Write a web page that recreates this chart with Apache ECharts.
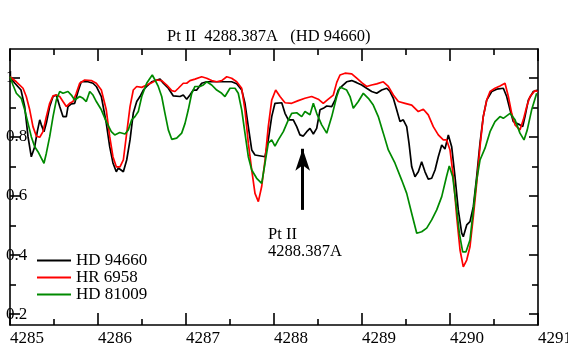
<!DOCTYPE html>
<html>
<head>
<meta charset="utf-8">
<script src="https://cdn.jsdelivr.net/npm/echarts@6/dist/echarts.min.js"></script>
<style>
  html, body { margin: 0; padding: 0; background: #ffffff; }
  #chart { width: 568px; height: 352px; }
</style>
</head>
<body>
<div id="chart"></div>
<script>
// wavelength offsets from 4285 A, flux
let blackWave = [0.000,0.053,0.125,0.167,0.205,0.242,0.281,0.310,0.338,0.356,0.386,0.413,0.451,0.489,0.526,0.565,0.602,0.640,0.659,0.697,0.735,0.773,0.810,0.886,0.943,0.981,1.038,1.094,1.133,1.170,1.208,1.231,1.288,1.326,1.364,1.401,1.440,1.477,1.515,1.553,1.610,1.705,1.742,1.799,1.856,1.932,1.969,2.008,2.045,2.083,2.122,2.178,2.235,2.330,2.406,2.519,2.576,2.633,2.670,2.708,2.747,2.784,2.898,2.935,2.974,3.011,3.088,3.125,3.163,3.219,3.258,3.295,3.333,3.372,3.409,3.447,3.485,3.523,3.560,3.599,3.656,3.693,3.731,3.769,3.826,3.883,3.940,3.997,4.053,4.110,4.167,4.224,4.281,4.318,4.356,4.394,4.432,4.469,4.508,4.534,4.565,4.602,4.640,4.678,4.716,4.753,4.792,4.830,4.867,4.906,4.943,4.981,5.019,5.057,5.094,5.133,5.151,5.190,5.227,5.265,5.303,5.341,5.378,5.417,5.474,5.531,5.606,5.644,5.682,5.719,5.758,5.795,5.826,5.852,5.890,5.947,5.997]
let blackFlux = [1.004,0.983,0.959,0.903,0.800,0.733,0.767,0.818,0.858,0.841,0.818,0.847,0.903,0.937,0.942,0.903,0.869,0.869,0.903,0.912,0.914,0.954,0.987,0.987,0.982,0.971,0.937,0.847,0.767,0.712,0.682,0.695,0.682,0.722,0.790,0.881,0.920,0.937,0.959,0.971,0.987,0.996,0.982,0.965,0.939,0.937,0.942,0.928,0.942,0.959,0.959,0.982,0.987,0.987,0.987,0.987,0.980,0.959,0.914,0.835,0.756,0.739,0.733,0.790,0.869,0.914,0.916,0.880,0.858,0.858,0.835,0.807,0.803,0.818,0.829,0.810,0.829,0.892,0.897,0.905,0.903,0.925,0.959,0.971,0.987,0.991,0.984,0.976,0.965,0.954,0.948,0.959,0.965,0.954,0.931,0.892,0.852,0.858,0.835,0.779,0.699,0.665,0.682,0.716,0.682,0.657,0.660,0.688,0.733,0.773,0.759,0.807,0.767,0.665,0.553,0.474,0.462,0.502,0.513,0.564,0.665,0.779,0.869,0.925,0.954,0.962,0.965,0.937,0.892,0.852,0.846,0.841,0.835,0.869,0.925,0.954,0.959]

let redWave = [0.000,0.072,0.148,0.185,0.224,0.261,0.299,0.338,0.375,0.413,0.451,0.489,0.526,0.565,0.602,0.640,0.678,0.716,0.753,0.792,0.849,0.924,0.981,1.038,1.094,1.133,1.170,1.208,1.250,1.288,1.326,1.364,1.401,1.440,1.497,1.553,1.610,1.667,1.724,1.781,1.838,1.875,1.913,1.969,2.008,2.045,2.102,2.178,2.235,2.292,2.349,2.406,2.463,2.519,2.576,2.633,2.670,2.708,2.747,2.784,2.822,2.860,2.898,2.935,2.974,3.019,3.068,3.125,3.201,3.276,3.352,3.428,3.503,3.560,3.617,3.674,3.713,3.750,3.807,3.883,3.940,3.997,4.053,4.110,4.167,4.242,4.299,4.356,4.413,4.489,4.565,4.640,4.697,4.753,4.810,4.867,4.924,4.962,5.000,5.038,5.076,5.114,5.151,5.190,5.227,5.265,5.303,5.341,5.378,5.417,5.455,5.511,5.568,5.625,5.663,5.701,5.739,5.795,5.833,5.872,5.909,5.966,5.997]
let redFlux = [1.004,0.987,0.965,0.937,0.892,0.835,0.803,0.799,0.818,0.869,0.914,0.939,0.942,0.937,0.920,0.903,0.914,0.920,0.948,0.982,0.993,0.991,0.982,0.959,0.892,0.801,0.733,0.699,0.699,0.722,0.813,0.903,0.959,0.971,0.968,0.976,0.984,0.993,0.991,0.976,0.957,0.954,0.965,0.982,0.982,0.991,0.996,1.004,0.999,0.991,0.987,0.991,1.004,0.999,0.987,0.965,0.892,0.779,0.688,0.609,0.581,0.632,0.722,0.835,0.925,0.959,0.937,0.916,0.914,0.923,0.931,0.937,0.928,0.914,0.928,0.942,0.985,1.010,1.016,1.014,0.999,0.984,0.971,0.976,0.980,0.987,0.971,0.942,0.920,0.914,0.908,0.886,0.894,0.875,0.835,0.807,0.790,0.790,0.756,0.665,0.530,0.417,0.360,0.383,0.428,0.530,0.643,0.767,0.869,0.925,0.954,0.965,0.973,0.982,0.937,0.880,0.841,0.824,0.858,0.903,0.937,0.957,0.954]

let greenWave = [0.000,0.034,0.072,0.128,0.167,0.205,0.242,0.281,0.318,0.356,0.386,0.413,0.451,0.489,0.526,0.565,0.602,0.659,0.697,0.735,0.792,0.830,0.867,0.906,0.943,0.981,1.038,1.094,1.151,1.190,1.247,1.307,1.344,1.383,1.420,1.458,1.497,1.553,1.591,1.617,1.648,1.685,1.724,1.761,1.799,1.838,1.894,1.951,1.989,2.026,2.065,2.102,2.159,2.197,2.235,2.292,2.349,2.406,2.443,2.500,2.557,2.594,2.633,2.670,2.708,2.747,2.803,2.860,2.898,2.935,2.974,3.011,3.049,3.106,3.163,3.201,3.258,3.315,3.352,3.409,3.447,3.485,3.542,3.599,3.656,3.713,3.750,3.826,3.864,3.901,3.958,4.015,4.072,4.128,4.185,4.242,4.299,4.375,4.451,4.508,4.565,4.622,4.678,4.735,4.792,4.849,4.906,4.962,4.992,5.031,5.068,5.106,5.144,5.182,5.227,5.265,5.303,5.341,5.398,5.455,5.511,5.568,5.606,5.682,5.739,5.795,5.841,5.878,5.928,5.985]
let greenFlux = [1.004,0.976,0.948,0.931,0.892,0.846,0.801,0.767,0.750,0.728,0.711,0.745,0.801,0.869,0.925,0.954,0.948,0.954,0.942,0.925,0.937,0.931,0.920,0.954,0.942,0.920,0.892,0.852,0.818,0.807,0.815,0.810,0.824,0.858,0.869,0.886,0.937,0.982,0.999,1.010,0.993,0.971,0.937,0.880,0.824,0.792,0.796,0.813,0.846,0.892,0.948,0.971,0.971,0.976,0.987,0.976,0.959,0.948,0.937,0.965,0.965,0.948,0.892,0.813,0.733,0.688,0.660,0.643,0.711,0.779,0.790,0.769,0.790,0.818,0.858,0.880,0.882,0.869,0.886,0.875,0.914,0.880,0.841,0.813,0.869,0.937,0.969,0.959,0.937,0.897,0.920,0.948,0.931,0.908,0.869,0.813,0.756,0.711,0.654,0.609,0.541,0.474,0.479,0.491,0.519,0.553,0.598,0.668,0.702,0.665,0.575,0.474,0.411,0.411,0.451,0.553,0.654,0.722,0.762,0.818,0.852,0.869,0.863,0.880,0.858,0.813,0.790,0.824,0.892,0.948]

let seriesNames = ['HD 94660', 'HR 6958', 'HD 81009']
let seriesColors = ['#000000', '#ff0000', '#008a00']
let yMajorTicks = [0.2, 0.4, 0.6, 0.8, 1.0]
let yMinorTicks = [0.3, 0.5, 0.7, 0.9]
let lineName = 'Pt II'
let lineWave = 4288.326
let arrowFlux = [0.553, 0.760]

const base = 4285
function pairs(w, f) {
    let out = []
    for (let i = 0; i < w.length; i++) {
        out.push([+(base + w[i]).toFixed(3), f[i]])
    }
    return out
}

const font = 'Liberation Serif'
const chart = echarts.init(document.getElementById('chart'), null, { renderer: 'canvas' })

function yAx(pos, ticks, len, showLine, showLabel) {
    return {
        type: 'value',
        position: pos,
        min: 0.163,
        max: 1.098,
        splitLine: { show: false },
        axisLine: { show: showLine, lineStyle: { color: '#000', width: 1.6 } },
        axisTick: { show: true, inside: true, length: len, customValues: ticks, lineStyle: { color: '#000', width: 1.6 } },
        axisLabel: {
            show: showLabel,
            inside: true,
            margin: -4,
            customValues: ticks,
            color: '#000',
            fontFamily: font,
            fontSize: 17,
            formatter: function (v) { return Math.abs(v - 1) < 1e-6 ? '1' : v.toFixed(1) }
        }
    }
}

function xAx(pos, showLabel) {
    return {
        type: 'value',
        position: pos,
        min: 4285,
        max: 4291,
        interval: 1,
        splitLine: { show: false },
        axisLine: { show: true, onZero: false, lineStyle: { color: '#000', width: 1.6 } },
        axisTick: { show: true, inside: true, length: 12, lineStyle: { color: '#000', width: 1.6 } },
        minorTick: { show: true, splitNumber: 2, length: 6, lineStyle: { color: '#000', width: 1.6 } },
        axisLabel: {
            show: showLabel,
            showMinLabel: true,
            showMaxLabel: true,
            hideOverlap: false,
            align: 'left',
            margin: 5,
            color: '#000',
            fontFamily: font,
            fontSize: 17,
            formatter: function (v) { return String(v) }
        }
    }
}

const waves = [blackWave, redWave, greenWave]
const fluxes = [blackFlux, redFlux, greenFlux]

let series = seriesNames.map((name, i) => ({
    name: name,
    type: 'line',
    xAxisIndex: 0,
    yAxisIndex: 0,
    data: pairs(waves[i], fluxes[i]),
    showSymbol: false,
    symbol: 'none',
    lineStyle: { color: seriesColors[i], width: 1.7 },
    itemStyle: { color: seriesColors[i] },
    z: 3
}))

// arrow pointing at the Pt II line
series[0].markLine = {
    silent: true,
    symbol: ['none', 'arrow'],
    symbolSize: [11, 22],
    label: { show: false },
    lineStyle: { color: '#000', width: 3, type: 'solid' },
    data: [[
        { coord: [lineWave, arrowFlux[0]] },
        { coord: [lineWave, arrowFlux[1]] }
    ]]
}

const option = {
    backgroundColor: '#ffffff',
    animation: false,
    title: {
        text: 'Pt II  4288.387A   (HD 94660)',
        left: 167,
        top: 28,
        padding: 0,
        textStyle: { fontFamily: font, fontSize: 16.5, fontWeight: 'normal', color: '#000', lineHeight: 17 }
    },
    grid: { left: 10, right: 30, top: 49, bottom: 27, containLabel: false, outerBoundsMode: 'none' },
    legend: {
        data: seriesNames,
        orient: 'vertical',
        left: 37,
        top: 252,
        padding: 0,
        itemGap: 0,
        itemWidth: 34,
        itemHeight: 2,
        icon: 'rect',
        textStyle: { fontFamily: font, fontSize: 17, color: '#000', lineHeight: 17 }
    },
    xAxis: [xAx('bottom', true), xAx('top', false)],
    yAxis: [
        yAx('left', yMajorTicks, 10, true, true),
        yAx('left', yMinorTicks, 6, false, false),
        yAx('right', yMajorTicks, 9, true, false),
        yAx('right', yMinorTicks, 6, false, false)
    ],
    graphic: [{
        type: 'text',
        left: 268,
        top: 226,
        style: {
            text: lineName + '\n' + '4288.387A',
            fontFamily: font,
            fontSize: 16.5,
            lineHeight: 17,
            fill: '#000'
        }
    }],
    series: series
}

chart.setOption(option)
</script>
</body>
</html>
